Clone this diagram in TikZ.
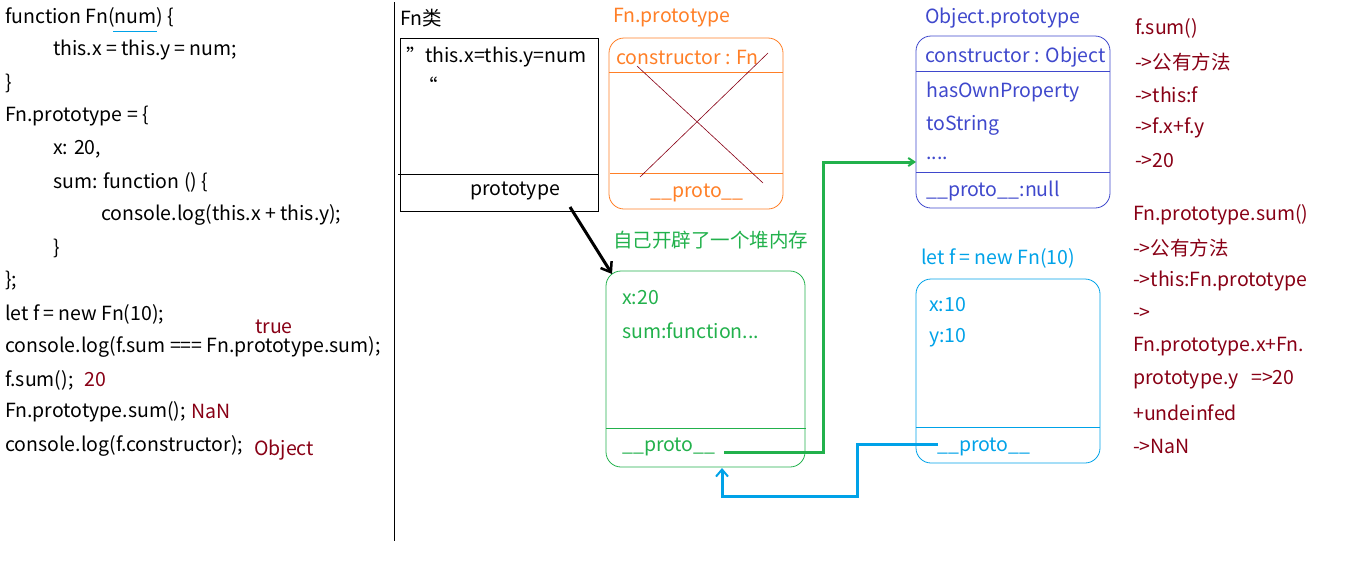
\documentclass[tikz,border=0pt]{standalone}
\usepackage{fontspec}
\setmainfont{Noto Sans CJK SC}
\usetikzlibrary{arrows.meta}
\definecolor{cOrange}{HTML}{FF7F27}
\definecolor{cGreen}{HTML}{22B14C}
\definecolor{cIndigo}{HTML}{3F48CC}
\definecolor{cTurq}{HTML}{00A2E8}
\definecolor{cRed}{HTML}{880015}
\tikzset{
  txt/.style={anchor=west,inner sep=0pt,font=\fontsize{19.5}{22}\selectfont},
  code/.style={txt,text=black},
  note/.style={txt,text=cRed},
  orangeT/.style={txt,text=cOrange},
  greenT/.style={txt,text=cGreen},
  indigoT/.style={txt,text=cIndigo},
  turqT/.style={txt,text=cTurq},
  blackbox/.style={draw=black,line width=1pt},
  rbox/.style={rounded corners=15pt,line width=0.8pt},
  link/.style={line width=3pt},
}
\begin{document}
\begin{tikzpicture}[x=1pt,y=-1pt]
\useasboundingbox (0,0) rectangle (1362,576);
% ---------- code on the left
\node[code] (c1) at (5,17) {function Fn(num) \{};
\draw[cTurq,line width=0.8pt] (113,31) -- (157,31);
\node[code] (c2) at (53,50) {this.x = this.y = num;};
\node[code] (c3) at (5,83) {\}};
\node[code] (c4) at (5,116) {Fn.prototype = \{};
\node[code] (c5) at (53,149) {x: 20,};
\node[code] (c6) at (53,182) {sum: function () \{};
\node[code] (c7) at (101,215) {console.log(this.x + this.y);};
\node[code] (c8) at (53,248) {\}};
\node[code] (c9) at (5,281) {\};};
\node[code] (c10) at (5,314) {let f = new Fn(10);};
\node[code] (c11) at (5,347) {console.log(f.sum === Fn.prototype.sum);};
\node[code] (c12) at (5,380) {f.sum();};
\node[code] (c13) at (5,412) {Fn.prototype.sum();};
\node[code] (c14) at (5,446) {console.log(f.constructor);};
\node[note] (n1) at (255,327) {true};
\node[note] (n2) at (84,380) {20};
\node[note] (n3) at (191,411) {NaN};
\node[note] (n4) at (254,450) {Object};
% divider
\draw[black,line width=1pt] (394,2) -- (394,541);
% ---------- Fn class box
\node[code] (fnlbl) at (400,18) {Fn类};
\draw[blackbox] (400,38) rectangle (598,211);
\draw[black,line width=0.8pt] (398,174) -- (598,174);
\node[code] (fnq1) at (406,55) {”};
\node[code] (fnbody) at (425,57) {this.x=this.y=num};
\node[code] (fnq) at (418,85) {“};
\node[code,anchor=center] (fnproto) at (515,191) {prototype};
% ---------- Fn.prototype (orange)
\node[orangeT] (fplbl) at (613,18) {Fn.prototype};
\draw[cOrange,rbox] (609,38) rectangle (783,209);
\draw[cOrange,line width=0.8pt] (609,72) -- (783,72);
\draw[cOrange,line width=0.8pt] (610,173) -- (783,173);
\node[orangeT] (fpctor) at (616,57) {constructor : Fn};
\node[orangeT,anchor=center] (fpproto) at (697,193) {\_\_proto\_\_};
\draw[cRed,line width=0.6pt] (637,66) -- (763,183);
\draw[cRed,line width=0.6pt] (640,177) -- (768,53);
% ---------- heap note and green object
\node[greenT] (heap) at (613,240) {自己开辟了一个堆内存};
\draw[cGreen,rbox] (606,271) rectangle (805,467);
\draw[cGreen,line width=0.8pt] (606,428) -- (806,428);
\node[greenT] (gx) at (622,298) {x:20};
\node[greenT] (gsum) at (622,331) {sum:function...};
\node[greenT] (gproto) at (622,447) {\_\_proto\_\_};
\coordinate (gtop) at (612,274);
\coordinate (protoTail) at (570,207);
\draw[black,line width=3pt,-{Straight Barb[length=9pt,width=13pt,line width=2.5pt]}] (protoTail) -- (gtop);
% ---------- Object.prototype
\node[indigoT] (oplbl) at (925,18) {Object.prototype};
\draw[cIndigo,rbox] (916,36) rectangle (1110,208);
\draw[cIndigo,line width=0.8pt] (916,71) -- (1110,71);
\draw[cIndigo,line width=0.8pt] (916,172) -- (1110,172);
\node[indigoT] (opctor) at (925,57) {constructor : Object};
\node[indigoT] (ophas) at (926,92) {hasOwnProperty};
\node[indigoT] (opts) at (926,125) {toString};
\node[indigoT] (opdots) at (926,158) {....};
\node[indigoT] (opproto) at (926,191) {\_\_proto\_\_:null};
% ---------- instance f
\node[turqT] (flbl) at (921,258) {let f = new Fn(10)};
\draw[cTurq,rbox] (916,279) rectangle (1100,463);
\draw[cTurq,line width=0.8pt] (916,427) -- (1100,427);
\node[turqT] (fx) at (929,305) {x:10};
\node[turqT] (fy) at (929,338) {y:10};
\node[turqT] (fproto) at (937,447) {\_\_proto\_\_};
% ---------- green link: Fn.prototype heap __proto__ -> Object.prototype
\coordinate (gStart) at (724,452);
\coordinate (oEnd) at (916,162);
\draw[cGreen,link,-{Straight Barb[length=6pt,width=8pt,line width=2pt]}] (gStart) -- (823,452) |- (oEnd);
% ---------- blue link: f.__proto__ -> heap object
\coordinate (fStart) at (938,444);
\coordinate (gBottom) at (722,468);
\draw[cTurq,link,-{Straight Barb[length=7pt,width=12pt,line width=2pt]}] (fStart) -- (857,444) -- (857,496) -| (gBottom);
% ---------- right notes
\node[note] (r1) at (1135,28) {f.sum()};
\node[note] (r2) at (1135,62) {->公有方法};
\node[note] (r3) at (1135,95) {->this:f};
\node[note] (r4) at (1135,128) {->f.x+f.y};
\node[note] (r5) at (1135,161) {->20};
\node[note] (r6) at (1133,215) {Fn.prototype.sum()};
\node[note] (r7) at (1133,248) {->公有方法};
\node[note] (r8) at (1133,281) {->this:Fn.prototype};
\node[note] (r9) at (1133,314) {->};
\node[note] (r10) at (1133,347) {Fn.prototype.x+Fn.};
\node[note] (r11) at (1133,380) {prototype.y\ \ \ =>20};
\node[note] (r12) at (1133,413) {+undeinfed};
\node[note] (r13) at (1133,446) {->NaN};
\end{tikzpicture}
\end{document}
